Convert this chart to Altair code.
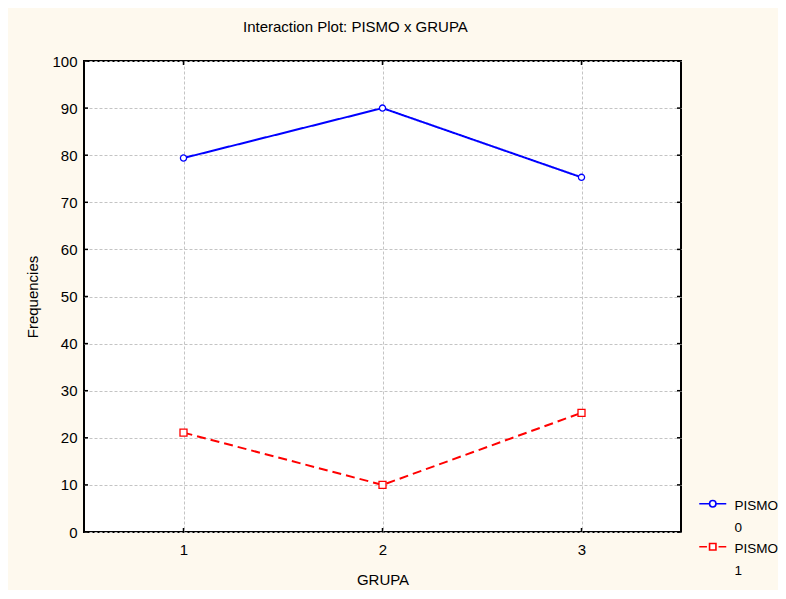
import altair as alt
import pandas as pd

# ---- data ----
grupa = [1, 2, 3]
pismo_0 = [79.4, 90.0, 75.3]
pismo_1 = [21.1, 10.0, 25.3]
series = ["0", "1"]
y_ticks = [0, 10, 20, 30, 40, 50, 60, 70, 80, 90, 100]
x_ticks = [1, 2, 3]

rows = []
for s, vals in zip(series, [pismo_0, pismo_1]):
    for g, v in zip(grupa, vals):
        rows.append({"GRUPA": g, "PISMO": s, "value": v})
df = pd.DataFrame(rows)
ytick_df = pd.DataFrame({"v": y_ticks})
xtick_df = pd.DataFrame({"v": x_ticks})

W, H = 597, 471
FONT = "Liberation Sans"
BG = "#FEF9EE"

xscale = alt.Scale(domain=[0.5, 3.5], nice=False, zero=False)
yscale = alt.Scale(domain=[0, 100], nice=False, zero=True)
color_scale = alt.Scale(domain=series, range=["#0000FF", "#FF0000"])

axis_common = dict(
    grid=True, gridDash=[3, 2], gridColor="#c4c4c4", gridWidth=1,
    ticks=False, domain=False,
    labelFont=FONT, labelFontSize=15, labelColor="black",
    titleFont=FONT, titleFontSize=15, titleFontWeight="normal", titleColor="black",
)

x_enc = alt.X("GRUPA:Q", scale=xscale, title="GRUPA",
              axis=alt.Axis(values=x_ticks, format="d", labelPadding=10,
                            titlePadding=15, **axis_common))
y_enc = alt.Y("value:Q", scale=yscale, title="Frequencies",
              axis=alt.Axis(values=y_ticks, format="d", labelPadding=7,
                            titlePadding=11, **axis_common))

base = alt.Chart(df)

lines = base.mark_line(strokeWidth=2).encode(
    x=x_enc,
    y=y_enc,
    color=alt.Color("PISMO:N", scale=color_scale, legend=None),
    strokeDash=alt.StrokeDash("PISMO:N",
                              scale=alt.Scale(domain=series, range=[[1, 0], [9, 5]]),
                              legend=None),
)

circles = base.mark_point(shape="circle", filled=False, fill="white", size=38,
                          strokeWidth=1.3, opacity=1).encode(
    x=alt.X("GRUPA:Q", scale=xscale),
    y=alt.Y("value:Q", scale=yscale),
    color=alt.Color("PISMO:N", scale=color_scale, legend=None),
).transform_filter(alt.datum.PISMO == "0")

squares = base.mark_point(shape="square", filled=False, fill="white", size=49,
                          strokeWidth=1.3, opacity=1).encode(
    x=alt.X("GRUPA:Q", scale=xscale),
    y=alt.Y("value:Q", scale=yscale),
    color=alt.Color("PISMO:N", scale=color_scale, legend=None),
).transform_filter(alt.datum.PISMO == "1")

# legend symbols: line + marker, drawn as custom paths (unit = 5 px)
sh = 1.0
circle_path = (f"M-2.7,{sh}H-0.64M0.64,{sh}H2.7"
               f"M-0.64,{sh}A0.64,0.64,0,1,1,0.64,{sh}"
               f"A0.64,0.64,0,1,1,-0.64,{sh}Z")
square_path = (f"M-2.7,{sh}H-1.16M1.16,{sh}H2.7"
               f"M-0.64,{sh - 0.64}H0.64V{sh + 0.64}H-0.64Z")

legend_layer = base.mark_point(filled=False, fill="white", size=100,
                               strokeWidth=1.6, opacity=1).encode(
    x=alt.X("GRUPA:Q", scale=xscale),
    y=alt.Y("value:Q", scale=yscale),
    color=alt.Color("PISMO:N", scale=color_scale, title=None),
    shape=alt.Shape("PISMO:N",
                    scale=alt.Scale(domain=series, range=[circle_path, square_path]),
                    title=None,
                    legend=alt.Legend(
                        orient="none", legendX=622, legendY=431, padding=0,
                        symbolSize=100, symbolStrokeWidth=1.6,
                        labelFont=FONT, labelFontSize=13.5, labelColor="black",
                        labelBaseline="top", labelOffset=15, rowPadding=-2,
                        labelExpr="['PISMO', datum.label]",
                    )),
).transform_filter("false")

tick_style = dict(color="black", strokeWidth=1.5)
left_ticks = alt.Chart(ytick_df).mark_rule(**tick_style).encode(
    y=alt.Y("v:Q", scale=yscale), x=alt.value(0), x2=alt.value(4))
right_ticks = alt.Chart(ytick_df).mark_rule(**tick_style).encode(
    y=alt.Y("v:Q", scale=yscale), x=alt.value(W - 4), x2=alt.value(W))
bottom_ticks = alt.Chart(xtick_df).mark_rule(**tick_style).encode(
    x=alt.X("v:Q", scale=xscale), y=alt.value(H - 4), y2=alt.value(H))
top_ticks = alt.Chart(xtick_df).mark_rule(**tick_style).encode(
    x=alt.X("v:Q", scale=xscale), y=alt.value(0), y2=alt.value(4))

chart = alt.layer(
    left_ticks, right_ticks, bottom_ticks, top_ticks,
    lines, circles, squares, legend_layer,
).resolve_legend(color="independent", shape="independent").properties(
    width=W, height=H,
    title=alt.TitleParams("Interaction Plot: PISMO x GRUPA", anchor="start",
                          frame="group", dx=159, offset=19, font=FONT,
                          fontSize=15, fontWeight="normal", color="black"),
    autosize=alt.AutoSizeParams(type="none"),
    padding={"left": 76, "top": 53, "right": 97, "bottom": 58},
    background=BG,
).configure(
    view={"fill": "white", "stroke": "black", "strokeWidth": 2},
    style={"guide-label": {"lineHeight": 22}},
)

chart.save("out.html", embed_options={"renderer": "svg", "actions": False})
